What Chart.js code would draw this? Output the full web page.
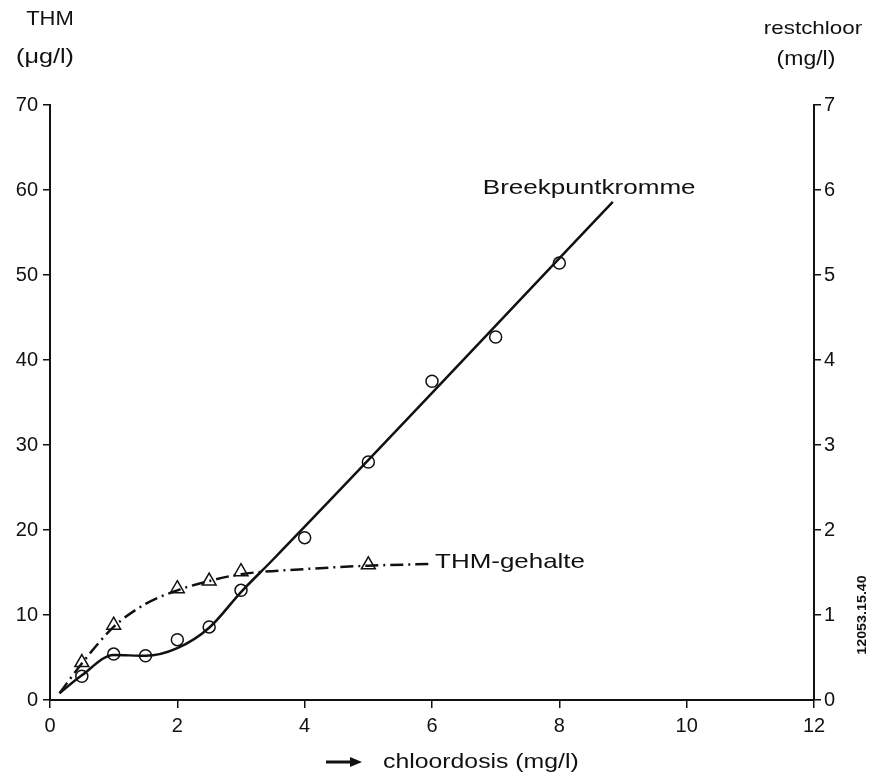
<!DOCTYPE html>
<html>
<head>
<meta charset="utf-8">
<script src="https://cdn.jsdelivr.net/npm/chart.js@4.4.0/dist/chart.umd.min.js"></script>
<style>
  html, body { margin: 0; padding: 0; background: #fff; }
  canvas { display: block; }
</style>
</head>
<body>
<canvas id="chart" width="874" height="778"></canvas>
<script>
// Measured points (chloordosis in mg/l)
const doseCircles = [0.5, 1, 1.5, 2, 2.5, 3, 4, 5, 6, 7, 8];
const restchloor = [0.28, 0.54, 0.52, 0.71, 0.86, 1.29, 1.91, 2.80, 3.75, 4.27, 5.14];
const doseTriangles = [0.5, 1, 2, 2.5, 3, 5];
const thm = [4.4, 8.8, 13.1, 14.0, 15.1, 15.9];

// Hand drawn curves
const breakCurveX = [0.15, 0.5, 1, 1.5, 2, 2.5, 3, 3.5, 8.84];
const breakCurveY = [0.08, 0.29, 0.53, 0.52, 0.61, 0.85, 1.27, 1.65, 5.86];
const thmCurveX = [0.15, 0.5, 1, 1.5, 2, 2.5, 3, 4, 5, 5.97];
const thmCurveY = [0.8, 4.3, 8.6, 11.3, 12.9, 14.0, 14.8, 15.4, 15.8, 16.0];

// Axis ticks
const xTicks = [0, 2, 4, 6, 8, 10, 12];
const thmTicks = [0, 10, 20, 30, 40, 50, 60, 70];
const chloorTicks = [0, 1, 2, 3, 4, 5, 6, 7];

const pts = (xs, ys) => xs.map((x, i) => ({ x: x, y: ys[i] }));
const FONT = '"Liberation Sans", Arial, sans-serif';
const INK = '#111';

// text a bit wider than Arial, like the original lettering
function wideText(ctx, text, x, y, size, align, sx, bold) {
    ctx.save();
    ctx.font = (bold ? 'bold ' : '') + size + 'px ' + FONT;
    ctx.fillStyle = INK;
    ctx.textBaseline = 'middle';
    const w = ctx.measureText(text).width * sx;
    let left = x;
    if (align === 'center') left = x - w / 2;
    if (align === 'right') left = x - w;
    ctx.translate(left, y);
    ctx.scale(sx, 1);
    ctx.textAlign = 'left';
    ctx.fillText(text, 0, 0);
    ctx.restore();
}

const labelsPlugin = {
    id: 'labels',
    afterDraw(chart) {
        const ctx = chart.ctx;
        const xs = chart.scales.x, yL = chart.scales.y, yR = chart.scales.yR;

        // axis titles
        wideText(ctx, 'THM', 50, 19, 20, 'center', 1.1);
        wideText(ctx, '(\u03BCg/l)', 45, 57, 21, 'center', 1.2);
        wideText(ctx, 'restchloor', 813, 29, 19, 'center', 1.18);
        wideText(ctx, '(mg/l)', 806, 59, 20, 'center', 1.15);

        // curve labels, next to the line ends
        const bx = xs.getPixelForValue(breakCurveX[breakCurveX.length - 1]);
        const by = yR.getPixelForValue(breakCurveY[breakCurveY.length - 1]);
        wideText(ctx, 'Breekpuntkromme', bx - 130, by - 14, 21, 'left', 1.24);
        const tx = xs.getPixelForValue(thmCurveX[thmCurveX.length - 1]);
        const ty = yL.getPixelForValue(thmCurveY[thmCurveY.length - 1]);
        wideText(ctx, 'THM-gehalte', tx + 5, ty - 2, 21, 'left', 1.235);

        // x-axis title with arrow
        ctx.save();
        ctx.strokeStyle = INK;
        ctx.fillStyle = INK;
        ctx.lineWidth = 3;
        ctx.beginPath();
        ctx.moveTo(326, 762);
        ctx.lineTo(352, 762);
        ctx.stroke();
        ctx.beginPath();
        ctx.moveTo(362, 762);
        ctx.lineTo(350, 757);
        ctx.lineTo(350, 767);
        ctx.closePath();
        ctx.fill();
        ctx.restore();
        wideText(ctx, 'chloordosis (mg/l)', 383, 762, 20, 'left', 1.24);

        // drawing number along the right edge
        ctx.save();
        ctx.translate(862, 615);
        ctx.rotate(-Math.PI / 2);
        wideText(ctx, '12053.15.40', 0, 0, 13, 'center', 1.1, true);
        ctx.restore();
    }
};

const ctx = document.getElementById('chart').getContext('2d');
const chart = new Chart(ctx, {
    type: 'scatter',
    data: {
        datasets: [
            {
                label: 'Breekpuntkromme',
                data: pts(breakCurveX, breakCurveY),
                yAxisID: 'yR',
                showLine: true,
                borderColor: INK,
                borderWidth: 2.5,
                pointRadius: 0,
                cubicInterpolationMode: 'monotone'
            },
            {
                label: 'THM-gehalte',
                data: pts(thmCurveX, thmCurveY),
                yAxisID: 'y',
                showLine: true,
                borderColor: INK,
                borderWidth: 2.5,
                borderDash: [13, 5, 2, 5],
                pointRadius: 0,
                cubicInterpolationMode: 'monotone'
            },
            {
                label: 'restchloor',
                data: pts(doseCircles, restchloor),
                yAxisID: 'yR',
                pointStyle: 'circle',
                pointRadius: 6,
                pointBorderWidth: 1.5,
                borderColor: INK,
                backgroundColor: '#fff'
            },
            {
                label: 'THM',
                data: pts(doseTriangles, thm),
                yAxisID: 'y',
                pointStyle: 'triangle',
                pointRadius: 8,
                pointBorderWidth: 1.5,
                borderColor: INK,
                backgroundColor: '#fff'
            }
        ]
    },
    options: {
        responsive: false,
        animation: false,
        layout: { padding: { top: 105, left: 0, right: 0, bottom: 0 } },
        plugins: {
            legend: { display: false },
            tooltip: { enabled: false }
        },
        scales: {
            x: {
                type: 'linear',
                min: 0,
                max: 12,
                afterBuildTicks: (s) => { s.ticks = xTicks.map(v => ({ value: v })); },
                afterFit: (s) => { s.height = 78; },
                border: { display: true, color: INK, width: 2 },
                grid: { drawOnChartArea: false, drawTicks: true, tickLength: 8, color: INK, lineWidth: 1.5 },
                ticks: { color: INK, font: { family: FONT, size: 20 }, padding: 6, maxRotation: 0 }
            },
            y: {
                type: 'linear',
                position: 'left',
                min: 0,
                max: 70,
                afterBuildTicks: (s) => { s.ticks = thmTicks.map(v => ({ value: v })); },
                afterFit: (s) => { s.width = 50; },
                border: { display: true, color: INK, width: 2 },
                grid: { drawOnChartArea: false, drawTicks: true, tickLength: 7, color: INK, lineWidth: 1.5 },
                ticks: { color: INK, font: { family: FONT, size: 20 }, padding: 5 }
            },
            yR: {
                type: 'linear',
                position: 'right',
                min: 0,
                max: 7,
                afterBuildTicks: (s) => { s.ticks = chloorTicks.map(v => ({ value: v })); },
                afterFit: (s) => { s.width = 60; },
                border: { display: true, color: INK, width: 2 },
                grid: { drawOnChartArea: false, drawTicks: true, tickLength: 7, color: INK, lineWidth: 1.5 },
                ticks: { color: INK, font: { family: FONT, size: 20 }, padding: 3 }
            }
        }
    },
    plugins: [labelsPlugin]
});
</script>
</body>
</html>
